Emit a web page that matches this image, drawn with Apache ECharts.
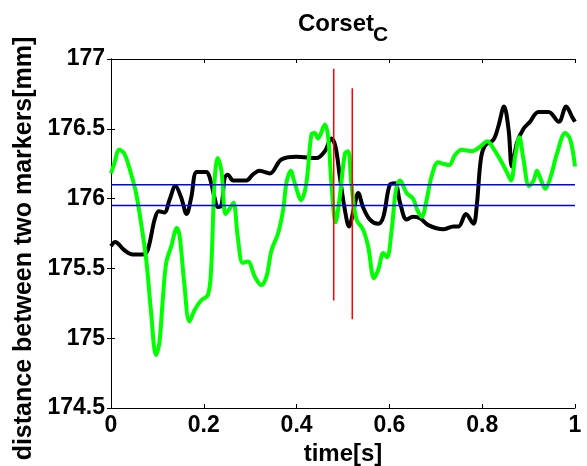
<!DOCTYPE html>
<html>
<head>
<meta charset="utf-8">
<script src="https://cdn.jsdelivr.net/npm/echarts@6/dist/echarts.min.js"></script>
<style>
  html, body { margin: 0; padding: 0; background: #fff; }
  #chart { width: 587px; height: 466px; }
</style>
</head>
<body>
<div id="chart"></div>
<script>
// Marker distance over one second of motion (corset condition C)
const timeBlack = [0, 0.009, 0.029, 0.047, 0.068, 0.079, 0.094, 0.103, 0.115, 0.126, 0.139, 0.151, 0.163, 0.173, 0.185, 0.205, 0.212, 0.223, 0.230, 0.238, 0.245, 0.252, 0.263, 0.277, 0.292, 0.305, 0.320, 0.342, 0.367, 0.400, 0.443, 0.461, 0.475, 0.484, 0.493, 0.504, 0.513, 0.523, 0.533, 0.543, 0.558, 0.576, 0.587, 0.601, 0.612, 0.623, 0.637, 0.651, 0.666, 0.684, 0.716, 0.738, 0.749, 0.765, 0.781, 0.788, 0.797, 0.806, 0.824, 0.835, 0.847, 0.857, 0.864, 0.875, 0.889, 0.903, 0.921, 0.943, 0.965, 0.981, 0.993, 1.0];
const distBlack = [175.66, 175.69, 175.63, 175.60, 175.60, 175.63, 175.85, 175.91, 175.90, 175.99, 176.09, 176.01, 175.89, 176.01, 176.19, 176.19, 176.16, 176.01, 175.94, 175.95, 176.15, 176.17, 176.13, 176.13, 176.13, 176.17, 176.20, 176.18, 176.28, 176.30, 176.29, 176.34, 176.43, 176.37, 176.16, 175.92, 175.80, 175.92, 176.04, 175.94, 175.85, 175.82, 175.87, 176.10, 176.11, 175.97, 175.85, 175.87, 175.86, 175.81, 175.78, 175.80, 175.80, 175.89, 175.82, 175.94, 176.28, 176.38, 176.42, 176.52, 176.66, 176.49, 176.23, 176.40, 176.50, 176.55, 176.62, 176.62, 176.55, 176.66, 176.59, 176.55];

const timeGreen = [0, 0.007, 0.018, 0.029, 0.043, 0.054, 0.065, 0.076, 0.086, 0.097, 0.104, 0.111, 0.119, 0.130, 0.142, 0.148, 0.158, 0.169, 0.180, 0.194, 0.209, 0.216, 0.223, 0.230, 0.238, 0.247, 0.256, 0.264, 0.273, 0.284, 0.295, 0.310, 0.324, 0.335, 0.346, 0.360, 0.371, 0.378, 0.387, 0.396, 0.410, 0.421, 0.432, 0.439, 0.446, 0.461, 0.468, 0.475, 0.484, 0.493, 0.504, 0.511, 0.518, 0.529, 0.543, 0.554, 0.567, 0.576, 0.587, 0.595, 0.605, 0.614, 0.623, 0.637, 0.651, 0.660, 0.670, 0.679, 0.691, 0.705, 0.716, 0.729, 0.741, 0.756, 0.778, 0.795, 0.811, 0.824, 0.842, 0.853, 0.862, 0.871, 0.880, 0.889, 0.901, 0.911, 0.918, 0.927, 0.936, 0.947, 0.961, 0.979, 0.990, 1.0];
const distGreen = [176.18, 176.25, 176.35, 176.32, 176.18, 176.04, 175.82, 175.56, 175.20, 174.88, 174.96, 175.25, 175.54, 175.66, 175.79, 175.73, 175.39, 175.12, 175.20, 175.27, 175.31, 175.51, 176.11, 176.29, 176.20, 175.89, 175.93, 175.97, 175.73, 175.54, 175.55, 175.44, 175.38, 175.44, 175.63, 175.75, 175.92, 176.11, 176.20, 176.11, 175.99, 176.11, 176.46, 176.47, 176.43, 176.53, 176.44, 176.11, 175.83, 176.01, 176.32, 176.34, 176.11, 175.85, 175.78, 175.66, 175.43, 175.49, 175.61, 175.58, 175.78, 176.06, 176.13, 176.04, 176.00, 175.92, 175.87, 175.97, 176.16, 176.26, 176.25, 176.24, 176.31, 176.35, 176.34, 176.37, 176.41, 176.36, 176.26, 176.19, 176.13, 176.30, 176.44, 176.28, 176.09, 176.13, 176.20, 176.13, 176.07, 176.15, 176.32, 176.47, 176.42, 176.23];

// Reference band (horizontal) and event markers (vertical)
const bandLevels = [176.1, 175.95];
const eventTimes = [0.48, 0.52];
const eventTop = [176.93, 176.79];
const eventBottom = [175.27, 175.135];

const xTicks = { min: 0, max: 1, interval: 0.2 };
const yTicks = { min: 174.5, max: 177, interval: 0.5 };

const FONT = "'Liberation Sans', Arial, sans-serif";

function zip(ts, vs) { return ts.map((t, i) => [t, vs[i]]); }

const series = [
  {
    type: 'line', data: zip(timeBlack, distBlack), smooth: 0.35, symbol: 'none',
    lineStyle: { color: '#000000', width: 4 }, z: 2
  },
  {
    type: 'line', data: zip(timeGreen, distGreen), smooth: 0.35, symbol: 'none',
    lineStyle: { color: '#00ff00', width: 4 }, z: 3
  }
];
bandLevels.forEach(v => series.push({
  type: 'line', data: [[xTicks.min, v], [xTicks.max, v]], symbol: 'none',
  lineStyle: { color: '#0000ff', width: 1.5 }, z: 4
}));
eventTimes.forEach((t, i) => series.push({
  type: 'line', data: [[t, eventTop[i]], [t, eventBottom[i]]], symbol: 'none',
  lineStyle: { color: '#ff0000', width: 1.5 }, z: 5
}));

const chart = echarts.init(document.getElementById('chart'), null, { renderer: 'canvas' });

const tickLabel = { color: '#000', fontSize: 23, fontWeight: 'bold', fontFamily: FONT };
const nameStyle = { color: '#000', fontSize: 24, fontWeight: 'bold', fontFamily: FONT };

chart.setOption({
  animation: false,
  backgroundColor: '#ffffff',
  grid: { left: 111, right: 12, top: 59, bottom: 58, outerBoundsMode: 'none', containLabel: false },
  graphic: [
    { type: 'text', x: 298, y: 24, style: { text: 'Corset', font: 'bold 24px ' + FONT, fill: '#000', textAlign: 'left', textVerticalAlign: 'middle' } },
    { type: 'text', x: 373, y: 35, style: { text: 'C', font: 'bold 21px ' + FONT, fill: '#000', textAlign: 'left', textVerticalAlign: 'middle' } }
  ],
  xAxis: [
    {
      type: 'value', position: 'bottom', ...xTicks,
      name: 'time[s]', nameLocation: 'middle', nameGap: 34, nameTextStyle: nameStyle,
      axisLine: { lineStyle: { color: '#000', width: 1 } },
      axisTick: { inside: true, length: 4, lineStyle: { color: '#000' } },
      axisLabel: { ...tickLabel, margin: 6 },
      splitLine: { show: false }
    },
    {
      type: 'value', position: 'top', ...xTicks,
      axisLine: { lineStyle: { color: '#000', width: 1 } },
      axisTick: { inside: true, length: 4, lineStyle: { color: '#000' } },
      axisLabel: { show: false },
      splitLine: { show: false }
    }
  ],
  yAxis: [
    {
      type: 'value', position: 'left', ...yTicks,
      name: 'distance between two markers[mm]', nameLocation: 'middle', nameGap: 71,
      nameTextStyle: { ...nameStyle, fontSize: 25, padding: [0, 30, 0, 0] },
      axisLine: { show: true, lineStyle: { color: '#000', width: 1 } },
      axisTick: { show: true, inside: true, length: 4, lineStyle: { color: '#000' } },
      axisLabel: { ...tickLabel, margin: 6 },
      splitLine: { show: false }
    },
    {
      type: 'value', position: 'right', ...yTicks,
      axisLine: { show: true, lineStyle: { color: '#000', width: 1 } },
      axisTick: { show: true, inside: true, length: 4, lineStyle: { color: '#000' } },
      axisLabel: { show: false },
      splitLine: { show: false }
    }
  ],
  series: series
});
</script>
</body>
</html>
